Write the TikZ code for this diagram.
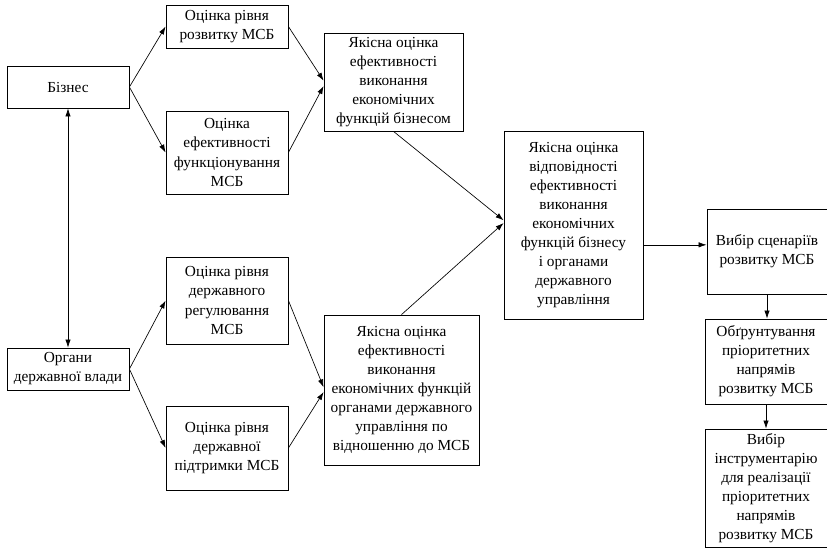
\documentclass[tikz,border=0pt]{standalone}
\usepackage{fontspec}
\setmainfont{Liberation Serif}
\usetikzlibrary{arrows.meta}

\tikzset{
	blok/.style={draw,line width=0.6pt,align=center,inner sep=1pt,font=\fontsize{11.5}{14.3}\selectfont},
	strilka/.style={-{Latex[length=6pt,width=4pt]},line width=0.5pt},
	dvistrilka/.style={{Latex[length=6pt,width=4pt]}-{Latex[length=6pt,width=4pt]},line width=0.5pt},
}

\begin{document}
\begin{tikzpicture}[x=0.75pt,y=-0.75pt]  %% one unit = one pixel of the scheme
	\useasboundingbox (0,0) rectangle (827,553);
	% subjects
	\node[blok,minimum width=91.5pt,minimum height=31.5pt] (biz) at (68,87) {Бізнес};
	\node[blok,minimum width=91.5pt,minimum height=31.5pt] (org) at (68,369) {Органи\\державної влади};
	% first-level assessments
	\node[blok,minimum width=91.5pt,minimum height=32.25pt] (ocr1) at (227,26.5) {Оцінка рівня\\розвитку МСБ};
	\node[blok,minimum width=91.5pt,minimum height=62.25pt] (ocr2) at (227,152.5) {Оцінка\\ефективності\\функціонування\\МСБ};
	\node[blok,minimum width=91.5pt,minimum height=65.25pt] (ocr3) at (227,300.5) {Оцінка рівня\\державного\\регулювання\\МСБ};
	\node[blok,minimum width=91.5pt,minimum height=63pt] (ocr4) at (227,448) {Оцінка рівня\\державної\\підтримки МСБ};
	% qualitative assessments
	\node[blok,minimum width=104.25pt,minimum height=73.5pt] (yak1) at (393.5,82) {Якісна оцінка\\ефективності\\виконання\\економічних\\функцій бізнесом};
	\node[blok,minimum width=116.25pt,minimum height=112.5pt] (yak2) at (401.5,390) {Якісна оцінка\\ефективності\\виконання\\економічних функцій\\органами державного\\управління по\\відношенню до МСБ};
	\node[blok,minimum width=104.25pt,minimum height=141pt] (big) at (573.5,225) {Якісна оцінка\\відповідності\\ефективності\\виконання\\економічних\\функцій бізнесу\\і органами\\державного\\управління};
	% right column
	\node[blok,minimum width=90pt,minimum height=63.75pt] (vyb1) at (767,251.5) {Вибір сценаріїв\\розвитку МСБ};
	\node[blok,minimum width=91.5pt,minimum height=63.75pt] (obg) at (766,361.5) {Обґрунтування\\пріоритетних\\напрямів\\розвитку МСБ};
	\node[blok,minimum width=91.5pt,minimum height=88.5pt] (vyb2) at (766,488) {Вибір\\інструментарію\\для реалізації\\пріоритетних\\напрямів\\розвитку МСБ};
	\coordinate (vyhid) at ([yshift=5pt]vyb1.west);

	\draw[dvistrilka] (biz.south) -- (org.north);
	\draw[strilka] (biz.east) -- (ocr1.west);
	\draw[strilka] (biz.east) -- (ocr2.west);
	\draw[strilka] (org.east) -- (ocr3.west);
	\draw[strilka] (org.east) -- (ocr4.west);
	\draw[strilka] (ocr1.east) -- ([yshift=1pt]yak1.west);
	\draw[strilka] (ocr2.east) -- ([yshift=-3pt]yak1.west);
	\draw[strilka] (ocr3.east) -- ([yshift=2pt]yak2.west);
	\draw[strilka] (ocr4.east) -- ([yshift=-1.5pt]yak2.west);
	\draw[strilka] (yak1.south) -- ([yshift=3.5pt]big.west);
	\draw[strilka] (yak2.north) -- ([yshift=1.5pt]big.west);
	\draw[strilka] (vyhid -| big.east) -- (vyhid);
	\draw[strilka] (vyb1.south) -- (vyb1.south |- obg.north);
	\draw[strilka] (obg.south) -- (obg.south |- vyb2.north);
\end{tikzpicture}
\end{document}
